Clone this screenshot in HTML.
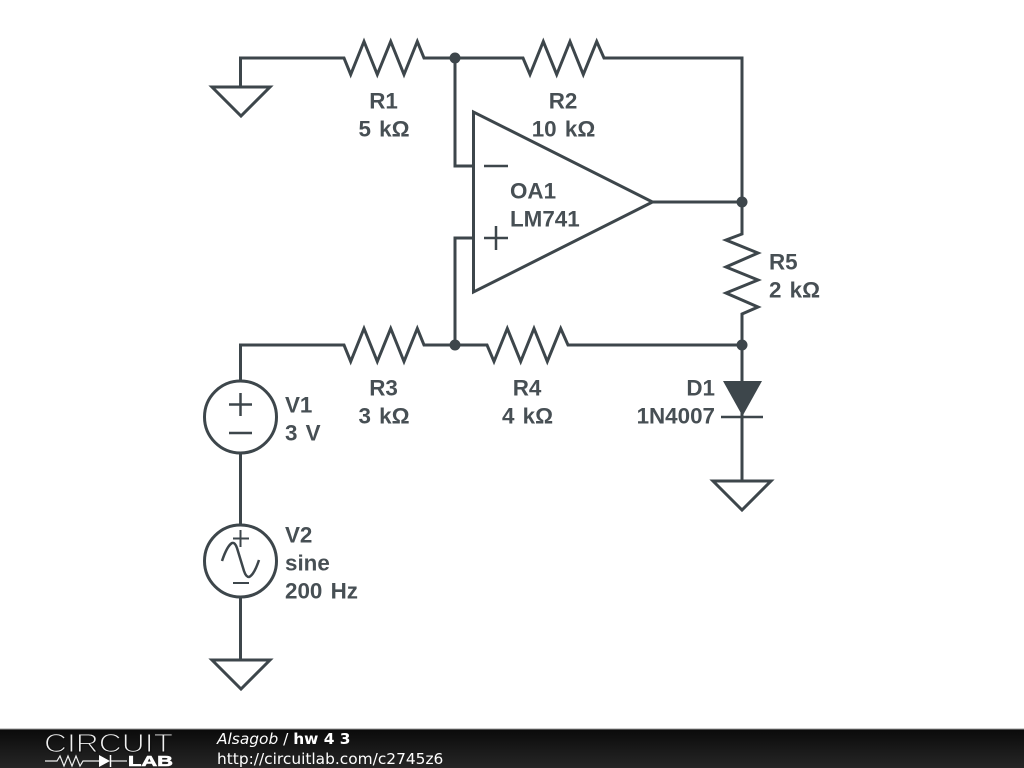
<!DOCTYPE html>
<html><head><meta charset="utf-8"><style>
html,body{margin:0;padding:0;background:#fff}
svg{display:block}
.w{fill:none;stroke:#3d464b;stroke-width:3;stroke-linejoin:miter;stroke-linecap:butt}
.t{font-family:"Liberation Sans",sans-serif;font-weight:bold;font-size:22.4px;fill:#474f54;word-spacing:2px}
.f{font-family:"DejaVu Sans",sans-serif;font-size:15.4px;fill:#fff}
</style></head><body>
<svg width="1024" height="768" viewBox="0 0 1024 768" xmlns="http://www.w3.org/2000/svg">
<defs><linearGradient id="g" x1="0" y1="0" x2="0" y2="1"><stop offset="0" stop-color="#0a0a0a"/><stop offset="1" stop-color="#262626"/></linearGradient></defs>
<rect width="1024" height="768" fill="#fff"/>
<g class="w">
<polyline points="240.5,87 240.5,58 344,58 350.7,74.500 364,41.500 377.3,74.500 390.7,41.500 404,74.500 417.3,41.500 424,58 523,58 530,74.500 543.3,41.500 556.7,74.500 570,41.500 583.3,74.500 596.700,41.500 604,58 742,58 742,234 726,240 758,253 726,267 758,280 726,293 758,307 742,314 742,417"/>
<polygon points="212,87 270,87 241,116"/>
<polyline points="455,58 455,166 473,166"/>
<polyline points="473,238 455,238 455,345"/>
<polygon points="473.5,112 473.5,292 652.5,202"/>
<line x1="652" y1="202" x2="742" y2="202"/>
<line x1="484" y1="166" x2="508" y2="166" stroke-width="2.5"/>
<line x1="484" y1="238" x2="508" y2="238" stroke-width="2.5"/>
<line x1="496" y1="226" x2="496" y2="250" stroke-width="2.5"/>
<polyline points="240.5,381 240.5,345 344,345 350.7,361.500 364,328.500 377.3,361.500 390.7,328.500 404,361.500 417.3,328.500 424,345 487,345 494,361.500 507.3,328.500 520.7,361.500 534,328.500 547.3,361.500 560.7,328.500 568,345 742,345"/>
<circle cx="240.5" cy="417" r="36"/>
<line x1="229" y1="404.5" x2="252" y2="404.5" stroke-width="2.5"/>
<line x1="240.5" y1="393" x2="240.5" y2="416" stroke-width="2.5"/>
<line x1="229" y1="433" x2="252" y2="433" stroke-width="2.5"/>
<line x1="240.5" y1="453" x2="240.5" y2="525"/>
<circle cx="240.5" cy="561" r="36"/>
<line x1="233" y1="538.5" x2="249" y2="538.5" stroke-width="2"/>
<line x1="240.5" y1="530" x2="240.5" y2="547" stroke-width="2"/>
<line x1="233" y1="583" x2="249" y2="583" stroke-width="2"/>
<path d="M222,561 Q227,546 232,543 Q235,542 237,548 L244,571 Q246,577 249,577 Q254,575 259,560" stroke-width="2.5"/>
<line x1="240.5" y1="597" x2="240.5" y2="660"/>
<polygon points="212,660 270,660 241,689"/>
<line x1="742" y1="415" x2="742" y2="481"/>
<line x1="721" y1="417" x2="763" y2="417" stroke-width="2.5"/>
<polygon points="713,481 771,481 742,510"/>
</g>
<polygon points="723,381 762,381 742.5,416" fill="#3d464b"/>
<g fill="#3d464b">
<circle cx="455" cy="58" r="5.500"/><circle cx="742" cy="202" r="5.500"/><circle cx="455" cy="345" r="5.500"/><circle cx="742" cy="345" r="5.500"/>
</g>
<g class="t">
<text x="383.5" y="108.500" text-anchor="middle">R1</text>
<text x="384" y="136.500" text-anchor="middle">5 kΩ</text>
<text x="563" y="108.500" text-anchor="middle">R2</text>
<text x="563.5" y="136.500" text-anchor="middle">10 kΩ</text>
<text x="383.5" y="395.500" text-anchor="middle">R3</text>
<text x="384" y="423.500" text-anchor="middle">3 kΩ</text>
<text x="527" y="395.500" text-anchor="middle">R4</text>
<text x="527.5" y="423.500" text-anchor="middle">4 kΩ</text>
<text x="510" y="198.500">OA1</text>
<text x="510" y="226.500">LM741</text>
<text x="769" y="269.500">R5</text>
<text x="769" y="297.500">2 kΩ</text>
<text x="715" y="395.500" text-anchor="end">D1</text>
<text x="715" y="423.500" text-anchor="end">1N4007</text>
<text x="285" y="412.500">V1</text>
<text x="285" y="440.500">3 V</text>
<text x="285" y="542.500">V2</text>
<text x="285" y="570.500">sine</text>
<text x="285" y="598.500">200 Hz</text>
</g>
<rect x="0" y="729" width="1024" height="39" fill="url(#g)"/>
<rect x="0" y="728.5" width="1024" height="1" fill="#999"/>
<text x="44" y="752" font-family="Liberation Sans, sans-serif" font-size="26" fill="#f0f0f0" stroke="#111" stroke-width="1.1" textLength="129" lengthAdjust="spacingAndGlyphs">CIRCUIT</text>
<polyline points="45,761 57,761 60,756 64,766 68,756 72,766 76,756 80,766 83,761 99,761" fill="none" stroke="#eee" stroke-width="1.2"/>
<polygon points="99,755 99,767 110,761" fill="#fff"/>
<line x1="110.500" y1="755" x2="110.500" y2="767" stroke="#fff" stroke-width="1.500"/>
<line x1="111" y1="761" x2="127" y2="761" stroke="#eee" stroke-width="1.200"/>
<text x="128" y="766" font-family="Liberation Sans, sans-serif" font-weight="bold" font-size="15" fill="#fff" stroke="#fff" stroke-width="0.6" textLength="45" lengthAdjust="spacingAndGlyphs">LAB</text>
<text class="f" x="217" y="744"><tspan font-style="italic">Alsagob</tspan> / <tspan font-weight="bold">hw 4 3</tspan></text>
<text class="f" x="217" y="764">http://circuitlab.com/c2745z6</text>
</svg>
</body></html>
